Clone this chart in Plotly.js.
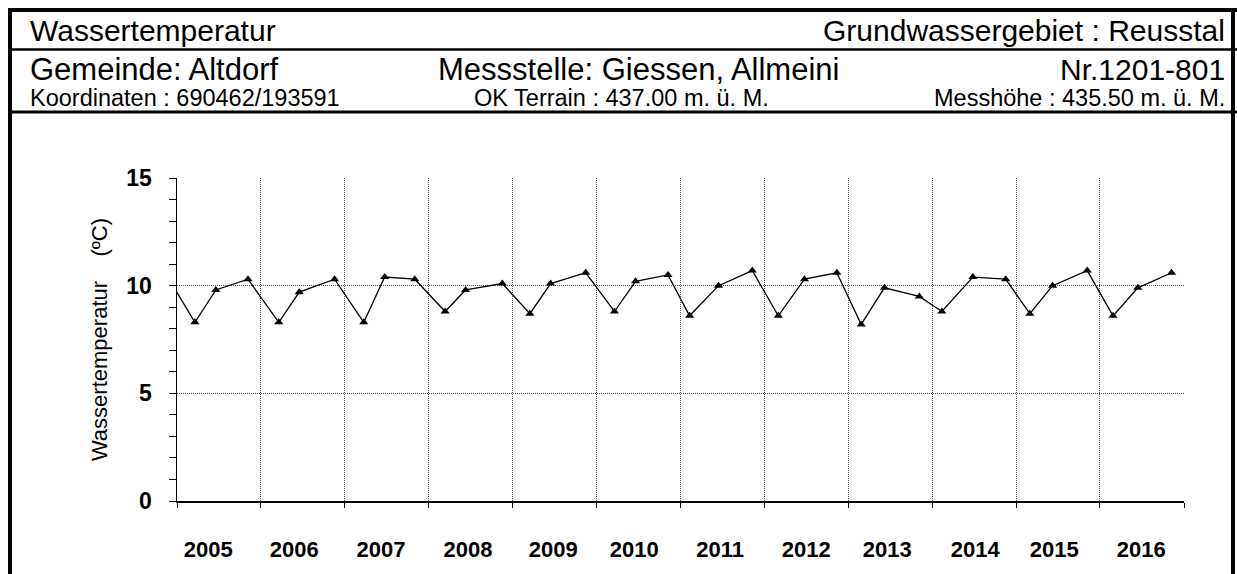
<!DOCTYPE html>
<html>
<head>
<meta charset="utf-8">
<script src="https://cdn.plot.ly/plotly-3.0.1.min.js"></script>
<style>
html,body{margin:0;padding:0;background:#fff;}
#chart{width:1237px;height:574px;}
</style>
</head>
<body>
<div id="chart"></div>
<script>
// ---- data ----
const measureDates = [
  "2004-11-10",
  "2005-03-20","2005-06-19","2005-11-06",
  "2006-03-20","2006-06-17","2006-11-18",
  "2007-03-25","2007-06-24","2007-11-02",
  "2008-03-13","2008-06-10","2008-11-17",
  "2009-03-17","2009-06-15","2009-11-15",
  "2010-03-20","2010-06-20","2010-11-08",
  "2011-02-10","2011-06-16","2011-11-10",
  "2012-03-02","2012-06-24","2012-11-12",
  "2013-02-26","2013-06-07","2013-11-06",
  "2014-02-12","2014-06-27","2014-11-17",
  "2015-03-02","2015-06-09","2015-11-07",
  "2016-02-27","2016-06-14","2016-11-08"
];
const waterTemp = [
  10.6,
  8.3, 9.8, 10.3,
  8.3, 9.7, 10.3,
  8.3, 10.4, 10.3,
  8.8, 9.8, 10.1,
  8.7, 10.1, 10.6,
  8.8, 10.2, 10.5,
  8.6, 10.0, 10.7,
  8.6, 10.3, 10.6,
  8.2, 9.9, 9.5,
  8.8, 10.4, 10.3,
  8.7, 10.0, 10.7,
  8.6, 9.9, 10.6
];
const yearLabels = ["2005","2006","2007","2008","2009","2010","2011","2012","2013","2014","2015","2016"];
const yearLabelDates = ["2005-05-17","2006-05-26","2007-06-08","2008-06-21","2009-06-27","2010-06-14",
                        "2011-06-23","2012-07-02","2013-06-19","2014-07-07","2015-06-16","2016-06-29"];
const yTickVals = [0, 5, 10, 15];

const headerTitle = "Wassertemperatur";
const headerArea = "Grundwassergebiet : Reusstal";
const headerCommune = "Gemeinde: Altdorf";
const headerStation = "Messstelle: Giessen, Allmeini";
const headerNumber = "Nr.1201-801";
const headerCoords = "Koordinaten : 690462/193591";
const headerTerrain = "OK Terrain : 437.00 m. ü. M.";
const headerHeight = "Messhöhe : 435.50 m. ü. M.";
const yTitle = "\u00a0Wassertemperatur\u00a0\u00a0\u00a0\u00a0(ºC)";

// ---- layout geometry ----
const FIG_W = 1237, FIG_H = 574;
const M = {l: 177, r: 53, t: 178, b: 73};
const PW = FIG_W - M.l - M.r, PH = FIG_H - M.t - M.b;
const px = p => (p - M.l) / PW;          // pixel x -> paper x
const py = p => (M.t + PH - p) / PH;     // pixel y -> paper y

const FONT = "Liberation Sans, Arial, Helvetica, sans-serif";

function hline(y, x0, x1, w) {
  return {type: "line", xref: "paper", yref: "paper", x0: px(x0), x1: px(x1), y0: py(y), y1: py(y),
          line: {color: "#000", width: w}};
}
function vline(x, y0, y1, w) {
  return {type: "line", xref: "paper", yref: "paper", x0: px(x), x1: px(x), y0: py(y0), y1: py(y1),
          line: {color: "#000", width: w}};
}
function label(text, x, y, anchor, size) {
  return {text: text, xref: "paper", yref: "paper", x: px(x), y: py(y), xanchor: anchor, yanchor: "middle",
          showarrow: false, font: {family: FONT, size: size, color: "#000"}};
}

const trace = {
  x: measureDates, y: waterTemp, type: "scatter", mode: "lines+markers",
  line: {color: "#000", width: 1.3},
  marker: {symbol: "triangle-up", size: 8, color: "#000"},
  cliponaxis: true, hoverinfo: "x+y"
};

const GRID = {gridcolor: "#555", griddash: "1px,1px", gridwidth: 1};

const layout = {
  width: FIG_W, height: FIG_H,
  margin: M,
  paper_bgcolor: "#fff", plot_bgcolor: "#fff",
  showlegend: false,
  font: {family: FONT, color: "#000"},
  xaxis: {
    type: "date",
    range: ["2005-01-01", "2017-01-01"],
    tickmode: "array", tickvals: yearLabelDates, ticktext: yearLabels,
    ticks: "", showgrid: false, zeroline: false,
    tickfont: {family: FONT, size: 22, color: "#000", weight: "bold"},
    ticklabelstandoff: 28,
    showline: true, linecolor: "#000", linewidth: 1.5,
    minor: Object.assign({dtick: "M12", tick0: "2005-01-01", ticks: "outside", ticklen: 5, tickcolor: "#000",
            tickwidth: 1, showgrid: true}, GRID),
    fixedrange: true
  },
  yaxis: {
    range: [0, 15],
    tickmode: "array", tickvals: yTickVals,
    ticks: "outside", ticklen: 7, tickcolor: "#000", tickwidth: 1,
    tickfont: {family: FONT, size: 23, color: "#000", weight: "bold"},
    ticklabelstandoff: 12,
    showgrid: true, gridcolor: GRID.gridcolor, griddash: GRID.griddash, gridwidth: 1,
    zeroline: false,
    showline: true, linecolor: "#000", linewidth: 1.5,
    minor: {dtick: 1, ticks: "outside", ticklen: 7, tickcolor: "#000", tickwidth: 1, showgrid: false},
    title: {text: yTitle, font: {family: FONT, size: 22, color: "#000"}, standoff: 12},
    fixedrange: true
  },
  shapes: [
    hline(10, 8, 1237, 4),
    hline(49.5, 8, 1237, 2.5),
    hline(112, 8, 1237, 3),
    vline(10, 8, 580, 4),
    vline(1233, 8, 580, 4)
  ],
  annotations: [
    label(headerTitle, 28, 30, "left", 30),
    label(headerArea, 1227, 30, "right", 30),
    label(headerCommune, 28, 70, "left", 31),
    label(headerStation, 638, 70, "center", 31),
    label(headerNumber, 1227, 70, "right", 30),
    label(headerCoords, 28, 98, "left", 23.5),
    label(headerTerrain, 621, 98, "center", 23.5),
    label(headerHeight, 1227, 98, "right", 23.5)
  ]
};

Plotly.newPlot("chart", [trace], layout, {displayModeBar: false, staticPlot: true});
</script>
</body>
</html>
